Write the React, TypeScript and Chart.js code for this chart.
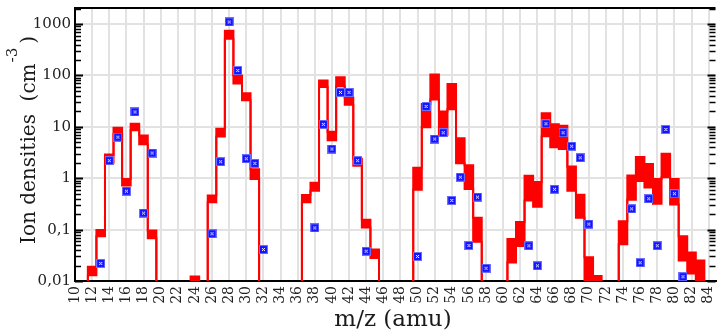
import React, { useEffect, useRef } from 'react';
import { Chart, registerables } from 'chart.js';

Chart.register(...registerables);

// value used for "no signal" (below the axis floor)
const F = 0.001;

const masses = [
  10, 11, 12, 13, 14, 15, 16, 17, 18, 19,
  20, 21, 22, 23, 24, 25, 26, 27, 28, 29,
  30, 31, 32, 33, 34, 35, 36, 37, 38, 39,
  40, 41, 42, 43, 44, 45, 46, 47, 48, 49,
  50, 51, 52, 53, 54, 55, 56, 57, 58, 59,
  60, 61, 62, 63, 64, 65, 66, 67, 68, 69,
  70, 71, 72, 73, 74, 75, 76, 77, 78, 79,
  80, 81, 82, 83, 84, 85,
];

const upperDensity = [
  F, F, 0.019, 0.098, 2.9, 9.6, 0.97, 11.5, 6.8, 0.096,
  F, F, F, F, 0.0123, F, 0.46, 9.2, 740, 100,
  45, 1.5, F, F, F, F, F, 0.47, 0.82, 80,
  8.0, 92, 37, 2.4, 0.155, 0.041, F, F, F, F,
  1.6, 28, 104, 20, 68, 6.0, 1.8, 0.17, F, F,
  F, 0.066, 0.14, 1.12, 0.85, 18.5, 11.3, 10.5, 1.7, 0.48,
  0.029, 0.0125, F, F, 0.145, 1.13, 2.6, 1.9, 0.97, 3.0,
  0.97, 0.074, 0.036, 0.025, F, F,
];

const lowerDensity = [
  F, F, 0.013, 0.074, 2.0, 7.3, 0.72, 8.6, 4.6, 0.068,
  F, F, F, F, 0.009, F, 0.34, 6.5, 520, 70,
  33, 0.97, F, F, F, F, F, 0.34, 0.57, 60,
  5.5, 62, 27, 1.75, 0.11, 0.028, F, F, F, F,
  0.6, 9.8, 34, 7, 22, 1.95, 0.62, 0.058, F, F,
  F, 0.023, 0.048, 0.37, 0.28, 6.6, 4.0, 3.7, 0.57, 0.17,
  0.008, 0.008, F, F, 0.052, 0.38, 0.88, 0.66, 0.32, 1.05,
  0.31, 0.025, 0.014, 0.008, F, F,
];

const markerMasses = [
  13, 14, 15, 16, 17, 18, 19,
  26, 27, 28, 29, 30, 31, 32,
  38, 39, 40, 41, 42, 43, 44,
  50, 51, 52, 53, 54, 55, 56, 57, 58,
  63, 64, 65, 66, 67, 68, 69, 70,
  75, 76, 77, 78, 79, 80, 81,
];

const markerDensity = [
  0.022, 2.2, 6.3, 0.56, 19.5, 0.21, 3.1,
  0.083, 2.1, 1100, 125, 2.4, 1.95, 0.041,
  0.108, 11.2, 3.7, 47, 47, 2.2, 0.038,
  0.030, 25, 5.8, 7.7, 0.37, 1.05, 0.049, 0.43, 0.0177,
  0.0485, 0.0198, 11.5, 0.61, 7.7, 4.2, 2.5, 0.128,
  0.254, 0.0227, 0.40, 0.0486, 8.9, 0.50, 0.0121,
];

const xTickValues = [
  10, 12, 14, 16, 18, 20, 22, 24, 26, 28, 30, 32, 34, 36, 38,
  40, 42, 44, 46, 48, 50, 52, 54, 56, 58, 60, 62, 64, 66, 68,
  70, 72, 74, 76, 78, 80, 82, 84,
];
const yTickValues = [0.01, 0.1, 1, 10, 100, 1000];
const yTickLabels = ['0,01', '0,1', '1', '10', '100', '1000'];
const minorMultipliers = [1, 2, 3, 4, 5, 6, 7, 8, 9];

const yTitleMain = 'Ion densities  (cm';
const yTitleSup = '-3';
const yTitleEnd = ')';
const xTitle = 'm/z (amu)';

const FONT = '"DejaVu Serif"';

function makeMarker(): HTMLCanvasElement {
  const c = document.createElement('canvas');
  c.width = 9;
  c.height = 9;
  const g = c.getContext('2d')!;
  g.fillStyle = '#6f6fff';
  g.fillRect(0, 0, 9, 9);
  g.fillStyle = '#1414ff';
  g.fillRect(1, 1, 7, 7);
  g.strokeStyle = '#ffffff';
  g.lineWidth = 1;
  g.beginPath();
  g.moveTo(3, 3);
  g.lineTo(6, 6);
  g.moveTo(6, 3);
  g.lineTo(3, 6);
  g.stroke();
  return c;
}

const decorPlugin = {
  id: 'decor',
  afterDraw(chart: any) {
    const { ctx, chartArea: a, scales } = chart;
    const y = scales.y;
    ctx.save();
    // top frame line
    ctx.strokeStyle = '#000';
    ctx.lineWidth = 2;
    ctx.beginPath();
    ctx.moveTo(a.left - 1, a.top);
    ctx.lineTo(a.right, a.top);
    ctx.stroke();
    // minor/major ticks on both vertical sides
    for (const d of yTickValues) {
      for (const k of minorMultipliers) {
        const v = d * k;
        if (v < y.min || v > y.max) continue;
        const py = Math.round(y.getPixelForValue(v)) + 0.5;
        const len = k === 1 ? 8 : 6;
        ctx.lineWidth = k === 1 ? 2 : 1.5;
        ctx.beginPath();
        ctx.moveTo(a.left, py);
        ctx.lineTo(a.left + len, py);
        ctx.moveTo(a.right, py);
        ctx.lineTo(a.right - len, py);
        ctx.stroke();
      }
    }
    // y title with superscript
    ctx.fillStyle = '#1a1a1a';
    ctx.textBaseline = 'alphabetic';
    ctx.textAlign = 'left';
    ctx.translate(35, 244);
    ctx.rotate(-Math.PI / 2);
    ctx.font = `20px ${FONT}`;
    const w1 = ctx.measureText(yTitleMain).width;
    ctx.fillText(yTitleMain, 0, 0);
    ctx.font = `15px ${FONT}`;
    const w2 = ctx.measureText(yTitleSup).width;
    ctx.fillText(yTitleSup, w1 + 1, -18);
    ctx.font = `20px ${FONT}`;
    ctx.fillText(yTitleEnd, w1 + w2 + 5, 0);
    ctx.restore();
    // x title
    ctx.save();
    ctx.fillStyle = '#1a1a1a';
    ctx.font = `23px ${FONT}`;
    ctx.textAlign = 'center';
    ctx.textBaseline = 'alphabetic';
    ctx.fillText(xTitle, 393, 326);
    ctx.restore();
  },
};

export default function App() {
  const ref = useRef<HTMLCanvasElement | null>(null);

  useEffect(() => {
    document.body.style.margin = '0';
    const canvas = ref.current;
    if (!canvas) return;
    const marker = makeMarker();
    const chart = new Chart(canvas, {
      type: 'line',
      data: {
        datasets: [
          {
            data: masses.map((m, i) => ({ x: m, y: upperDensity[i] })),
            stepped: 'middle',
            borderColor: '#ff0000',
            borderWidth: 2,
            pointRadius: 0,
            fill: false,
            clip: 0,
          },
          {
            data: masses.map((m, i) => ({ x: m, y: lowerDensity[i] })),
            stepped: 'middle',
            borderColor: '#ff0000',
            backgroundColor: '#ff0000',
            borderWidth: 2,
            pointRadius: 0,
            fill: '-1',
            clip: 0,
          },
          {
            data: markerMasses.map((m, i) => ({ x: m, y: markerDensity[i] })),
            showLine: false,
            pointStyle: marker,
            pointRadius: 4.5,
            order: -1,
            clip: false,
          } as any,
        ],
      },
      options: {
        animation: false,
        responsive: false,
        devicePixelRatio: 1,
        layout: { padding: { top: 8, left: 0, right: 0, bottom: 0 } },
        plugins: {
          legend: { display: false },
          tooltip: { enabled: false },
          title: { display: false },
        },
        scales: {
          x: {
            type: 'linear',
            min: 10,
            max: 84.8,
            afterBuildTicks: (s: any) => {
              s.ticks = xTickValues.map((v) => ({ value: v }));
            },
            afterFit: (s: any) => {
              s.height = 51;
              s.paddingLeft = 0;
              s.paddingRight = 0;
            },
            ticks: {
              autoSkip: false,
              maxRotation: 90,
              minRotation: 90,
              padding: 5,
              color: '#222',
              font: { family: 'DejaVu Serif', size: 14 },
              callback: (v: any) => String(v),
            },
            grid: { color: '#e2e2e2', lineWidth: 2, drawTicks: false },
            border: { display: true, color: '#000', width: 2 },
          },
          y: {
            type: 'logarithmic',
            min: 0.01,
            max: 2060,
            afterBuildTicks: (s: any) => {
              s.ticks = yTickValues.map((v) => ({ value: v }));
            },
            afterFit: (s: any) => {
              s.width = 75;
              s.paddingTop = 0;
              s.paddingBottom = 0;
            },
            ticks: {
              padding: 4,
              color: '#222',
              font: { family: 'DejaVu Serif', size: 15 },
              callback: (v: any) => {
                const idx = yTickValues.findIndex(
                  (t) => Math.abs(Math.log10(t) - Math.log10(Number(v))) < 1e-6
                );
                return idx >= 0 ? yTickLabels[idx] : '';
              },
            },
            grid: { color: '#e2e2e2', lineWidth: 2, drawTicks: false },
            border: { display: true, color: '#000', width: 2 },
          },
        },
      } as any,
      plugins: [decorPlugin],
    });
    return () => chart.destroy();
  }, []);

  return (
    <div style={{ width: 721, height: 332 }}>
      <canvas ref={ref} width={721} height={332} style={{ display: 'block' }} />
    </div>
  );
}
